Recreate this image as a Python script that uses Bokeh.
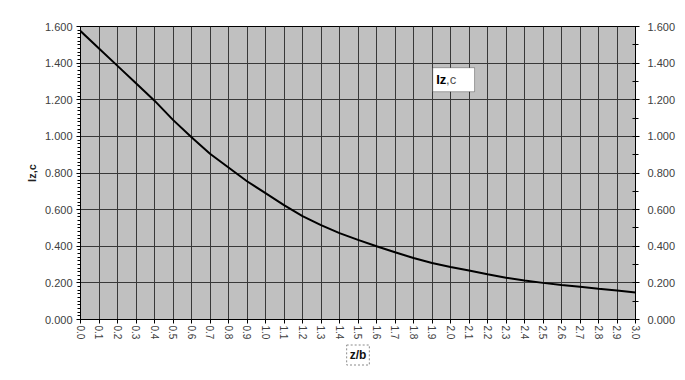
import math
from bokeh.plotting import figure
from bokeh.models import (LinearAxis, FixedTicker, SingleIntervalTicker,
                          NumeralTickFormatter, Range1d, BoxAnnotation, Label, Title)
from bokeh.embed import file_html
from bokeh.resources import INLINE

# ---- data ----
z_b = [0.0, 0.1, 0.2, 0.3, 0.4, 0.5, 0.6, 0.7, 0.8, 0.9,
       1.0, 1.1, 1.2, 1.3, 1.4, 1.5, 1.6, 1.7, 1.8, 1.9,
       2.0, 2.1, 2.2, 2.3, 2.4, 2.5, 2.6, 2.7, 2.8, 2.9, 3.0]
iz_c = [1.575, 1.480, 1.385, 1.290, 1.195, 1.090, 0.995, 0.905, 0.830, 0.755,
        0.690, 0.625, 0.565, 0.515, 0.472, 0.435, 0.400, 0.367, 0.336, 0.309,
        0.287, 0.267, 0.247, 0.228, 0.213, 0.200, 0.189, 0.179, 0.168, 0.158, 0.148]
y_min, y_max, y_step = 0.0, 1.6, 0.2
x_min, x_max = 0.0, 3.0
series_name_bold = "Iz"
series_name_rest = ",c"
x_title = "z/b"
y_title = "Iz,c"

FONT = "Liberation Sans"
LBL = "#404040"
GRID = "#383838"

p = figure(width=683, height=372, output_backend="svg", toolbar_location=None,
           x_range=Range1d(x_min, x_max), y_range=Range1d(y_min, y_max),
           min_border_left=80, min_border_right=48,
           min_border_top=26, min_border_bottom=53)
p.background_fill_color = "#c0c0c0"
p.border_fill_color = "white"
p.outline_line_color = "black"
p.outline_line_width = 1

# x axis
xa = p.xaxis[0]
xa.ticker = FixedTicker(ticks=z_b)
xa.formatter = NumeralTickFormatter(format="0.0")
xa.major_label_orientation = "vertical"
xa.major_tick_out = 4
xa.major_tick_in = 0
xa.minor_tick_out = 0
xa.minor_tick_in = 0
xa.major_label_standoff = 2
xa.major_label_text_font = FONT
xa.major_label_text_font_size = "10px"
xa.major_label_text_color = LBL
xa.axis_line_color = "black"
xa.major_tick_line_color = "black"

# left y axis
ya = p.yaxis[0]
ya.ticker = SingleIntervalTicker(interval=y_step, num_minor_ticks=10)
ya.formatter = NumeralTickFormatter(format="0.000")
ya.major_tick_out = 4
ya.major_tick_in = 0
ya.minor_tick_out = 3
ya.minor_tick_in = 0
ya.major_label_standoff = 4
ya.major_label_text_font = FONT
ya.major_label_text_font_size = "11px"
ya.major_label_text_color = LBL
ya.axis_label = y_title
ya.axis_label_text_font = FONT
ya.axis_label_text_font_style = "bold"
ya.axis_label_text_font_size = "11px"
ya.axis_label_text_color = "#222222"
ya.axis_label_standoff = 4
ya.axis_line_color = "black"

# right y axis
ra = LinearAxis(ticker=SingleIntervalTicker(interval=y_step, num_minor_ticks=2),
                formatter=NumeralTickFormatter(format="0.000"),
                major_tick_out=4, major_tick_in=0,
                minor_tick_out=3, minor_tick_in=3,
                major_label_standoff=8,
                major_label_text_font=FONT,
                major_label_text_font_size="11px",
                major_label_text_color=LBL,
                axis_line_color="black")
p.add_layout(ra, "right")

# grids
p.xgrid.grid_line_color = GRID
p.xgrid.grid_line_width = 1
p.ygrid.grid_line_color = GRID
p.ygrid.grid_line_width = 1.2
p.ygrid.ticker = SingleIntervalTicker(interval=y_step)

# curve
p.line(z_b, iz_c, line_color="black", line_width=2)

# legend box (series name)
p.add_layout(BoxAnnotation(left=1.904, right=2.130, top=1.375, bottom=1.244,
                           fill_color="white", fill_alpha=1.0,
                           line_color="black", line_width=1))
p.add_layout(Label(x=1.923, y=1.309, text=series_name_bold, text_font=FONT,
                   text_font_style="bold", text_font_size="13px",
                   text_color="black", text_baseline="middle"))
p.add_layout(Label(x=1.976, y=1.309, text=series_name_rest, text_font=FONT,
                   text_font_size="13px", text_color="#555555",
                   text_baseline="middle"))

# x-axis title, shown in a selected (dashed) box
xt = Title(text=x_title, align="center", text_font=FONT,
           text_font_style="bold", text_font_size="12px",
           text_color="#111111", standoff=1, padding=3,
           border_line_color="#8a8a8a", border_line_dash="2 2",
           background_fill_color="white")
p.add_layout(xt, "below")

open("out.html", "w").write(file_html(p, INLINE))
